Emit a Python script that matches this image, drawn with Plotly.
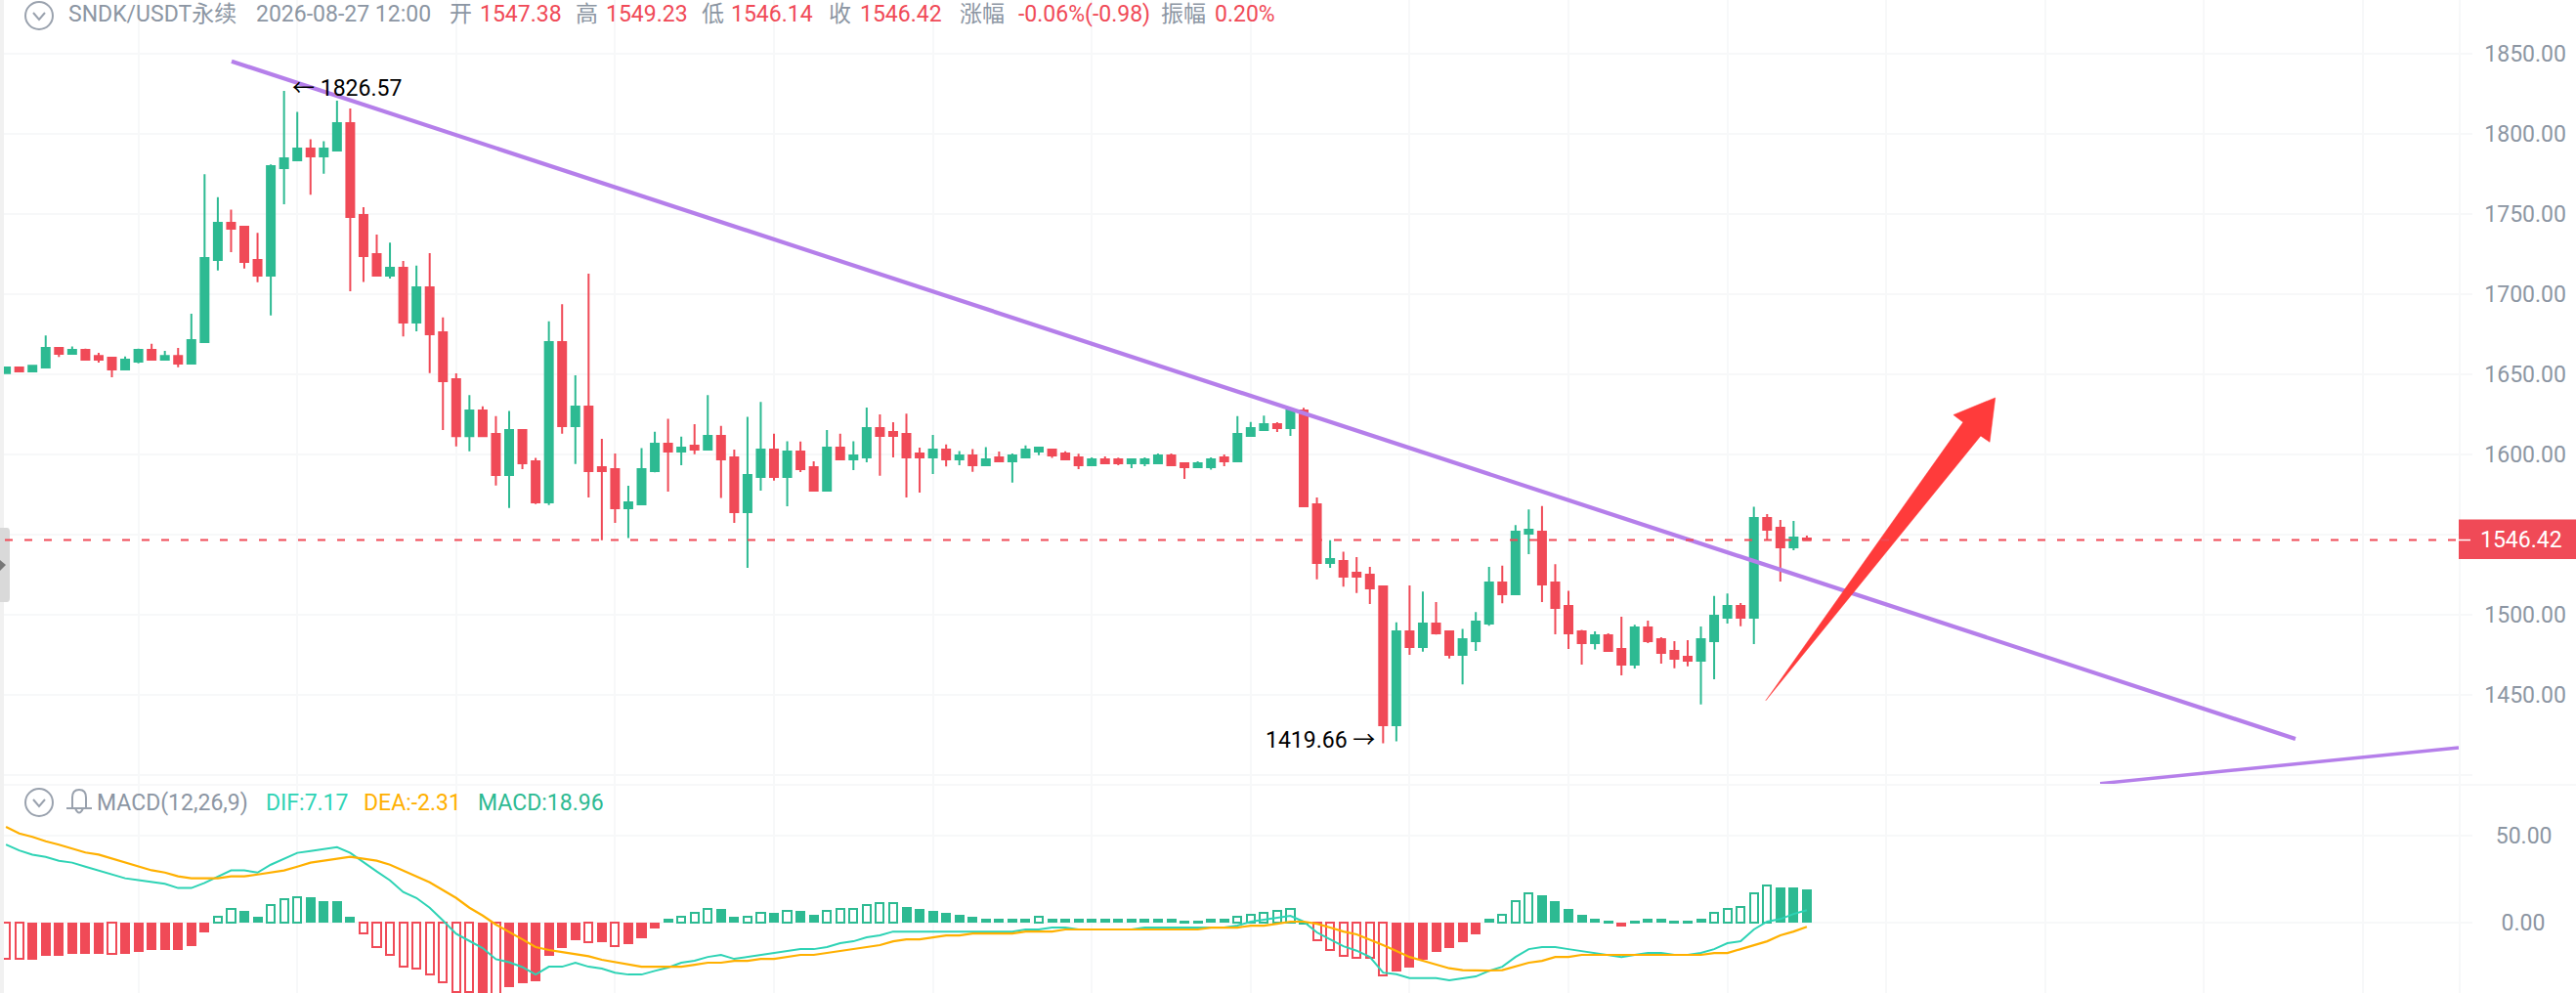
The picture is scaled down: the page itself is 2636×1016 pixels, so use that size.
import plotly.graph_objects as go
from plotly.subplots import make_subplots

# Candles
opens = [
    1650.6, 1654.0, 1651.6, 1654.0, 1666.2, 1662.6, 1665.0, 1661.3, 1660.1, 1652.8,
    1657.7, 1665.0, 1658.9, 1661.3, 1656.5, 1669.9, 1721.1, 1744.3, 1741.9, 1721.1,
    1711.4, 1778.4, 1783.3, 1790.6, 1785.8, 1789.4, 1806.5, 1749.2, 1724.8, 1711.4,
    1716.2, 1682.1, 1704.0, 1676.0, 1646.7, 1611.3, 1627.2, 1612.6, 1587.0, 1615.0,
    1595.5, 1569.9, 1669.9, 1617.5, 1629.7, 1591.8, 1590.6, 1566.2, 1568.7, 1589.4,
    1606.5, 1601.6, 1605.3, 1602.8, 1611.4, 1597.9, 1563.8, 1585.7, 1602.8, 1585.7,
    1601.6, 1591.8, 1577.2, 1604.0, 1596.7, 1597.9, 1616.2, 1613.8, 1612.6, 1600.4,
    1597.9, 1602.8, 1596.7, 1599.2, 1593.1, 1598.0, 1595.5, 1598.0, 1601.6, 1602.8,
    1600.4, 1598.0, 1593.1, 1596.7, 1596.7, 1594.3, 1594.3, 1594.3, 1599.2, 1594.3,
    1591.9, 1591.9, 1598.0, 1595.5, 1611.4, 1615.0, 1618.7, 1616.3, 1627.2, 1568.7,
    1532.1, 1533.3, 1526.0, 1524.8, 1517.5, 1430.9, 1489.4, 1479.7, 1494.3, 1489.4,
    1474.8, 1483.3, 1494.3, 1519.9, 1512.6, 1550.4, 1551.6, 1519.9, 1505.3, 1489.4,
    1482.1, 1487.0, 1478.4, 1468.7, 1491.9, 1484.5, 1477.2, 1473.6, 1471.1, 1483.3,
    1498.0, 1505.3, 1498.0, 1560.2, 1554.1, 1541.9, 1547.38,
]
highs = [
    1654.4, 1654.4, 1655.6, 1674.0, 1666.2, 1667.2, 1665.8, 1663.2, 1660.1, 1661.0,
    1665.8, 1668.9, 1664.4, 1666.2, 1687.6, 1774.6, 1760.4, 1752.6, 1742.5, 1738.0,
    1780.7, 1826.57, 1813.6, 1796.5, 1795.3, 1820.5, 1815.7, 1754.1, 1737.0, 1731.9,
    1720.5, 1717.7, 1725.4, 1685.3, 1650.4, 1636.8, 1629.8, 1623.7, 1627.0, 1615.6,
    1597.7, 1682.9, 1693.5, 1649.2, 1712.6, 1609.5, 1600.4, 1580.3, 1603.8, 1614.0,
    1622.1, 1611.0, 1618.7, 1636.8, 1617.7, 1602.8, 1623.2, 1632.5, 1612.8, 1608.1,
    1607.9, 1595.5, 1615.0, 1612.8, 1608.1, 1629.0, 1624.8, 1619.9, 1625.2, 1604.0,
    1612.0, 1606.1, 1602.0, 1603.2, 1604.4, 1601.6, 1600.4, 1605.5, 1604.0, 1602.8,
    1601.8, 1600.2, 1598.0, 1598.6, 1597.8, 1596.7, 1598.0, 1600.4, 1600.4, 1594.3,
    1595.5, 1598.0, 1599.8, 1623.8, 1620.1, 1624.0, 1619.9, 1628.0, 1628.9, 1573.0,
    1546.3, 1539.2, 1535.8, 1529.7, 1517.5, 1495.1, 1518.1, 1514.2, 1507.7, 1489.8,
    1491.0, 1501.4, 1529.7, 1530.5, 1555.7, 1565.5, 1567.7, 1531.3, 1514.8, 1490.4,
    1489.4, 1488.2, 1498.6, 1493.5, 1496.1, 1485.8, 1483.3, 1483.9, 1492.5, 1511.6,
    1513.0, 1507.1, 1567.1, 1562.6, 1558.9, 1558.3, 1549.23,
]
lows = [
    1650.6, 1651.6, 1651.6, 1654.0, 1660.7, 1662.6, 1658.3, 1657.1, 1648.0, 1652.2,
    1656.7, 1658.9, 1658.9, 1654.2, 1656.5, 1669.9, 1714.6, 1726.0, 1715.8, 1707.3,
    1686.6, 1755.9, 1783.3, 1761.8, 1775.0, 1789.4, 1701.6, 1707.5, 1711.4, 1709.5,
    1673.5, 1676.6, 1650.6, 1615.0, 1604.8, 1601.8, 1610.9, 1580.4, 1566.4, 1590.6,
    1568.9, 1568.3, 1612.8, 1593.9, 1573.0, 1546.3, 1557.1, 1547.7, 1568.7, 1588.6,
    1576.6, 1593.1, 1600.0, 1602.8, 1572.7, 1557.1, 1529.0, 1577.2, 1583.5, 1567.5,
    1588.8, 1577.2, 1576.6, 1596.1, 1590.0, 1594.9, 1586.6, 1597.9, 1573.0, 1576.0,
    1587.6, 1592.3, 1593.1, 1589.0, 1593.1, 1595.5, 1582.3, 1597.8, 1599.4, 1597.6,
    1596.7, 1590.6, 1593.1, 1594.3, 1593.1, 1591.3, 1592.5, 1594.3, 1593.1, 1584.5,
    1591.9, 1590.4, 1592.5, 1595.1, 1611.4, 1615.0, 1613.8, 1611.4, 1567.5, 1521.9,
    1529.0, 1517.3, 1513.4, 1506.5, 1419.66, 1420.9, 1474.8, 1476.8, 1487.4, 1472.5,
    1456.3, 1477.2, 1492.9, 1506.9, 1512.2, 1537.6, 1507.7, 1487.6, 1478.4, 1468.7,
    1478.2, 1477.2, 1462.0, 1466.2, 1482.1, 1469.3, 1466.4, 1467.7, 1443.9, 1459.5,
    1494.3, 1492.7, 1481.5, 1546.3, 1520.5, 1540.0, 1546.14,
]
closes = [
    1654.0, 1651.6, 1655.2, 1666.2, 1662.6, 1665.0, 1658.9, 1658.9, 1652.8, 1658.9,
    1665.0, 1658.9, 1661.3, 1656.5, 1671.1, 1722.3, 1744.3, 1740.6, 1719.9, 1711.4,
    1779.7, 1784.5, 1790.6, 1785.8, 1790.6, 1806.5, 1748.0, 1723.6, 1711.4, 1716.2,
    1682.1, 1704.0, 1674.8, 1645.5, 1611.3, 1627.2, 1611.3, 1587.0, 1615.0, 1594.3,
    1569.9, 1669.9, 1617.5, 1629.7, 1589.4, 1589.4, 1566.2, 1569.9, 1590.6, 1606.5,
    1601.6, 1604.0, 1602.8, 1611.4, 1596.7, 1563.8, 1587.0, 1602.8, 1585.7, 1601.6,
    1590.6, 1577.2, 1604.0, 1596.7, 1599.2, 1616.2, 1611.4, 1611.4, 1597.9, 1597.9,
    1602.8, 1596.7, 1599.2, 1593.1, 1596.7, 1595.5, 1599.2, 1602.8, 1604.0, 1599.2,
    1596.7, 1593.1, 1596.7, 1594.3, 1594.3, 1596.7, 1596.7, 1599.2, 1593.1, 1591.9,
    1594.3, 1596.7, 1595.5, 1612.6, 1616.3, 1618.7, 1616.3, 1627.2, 1567.5, 1532.1,
    1534.5, 1523.6, 1523.6, 1516.2, 1430.9, 1489.4, 1479.7, 1494.3, 1488.2, 1474.8,
    1484.5, 1495.5, 1519.9, 1512.6, 1551.6, 1552.8, 1518.7, 1504.1, 1488.2, 1482.1,
    1487.0, 1477.2, 1468.7, 1491.9, 1483.3, 1476.0, 1472.3, 1471.1, 1484.5, 1499.2,
    1505.3, 1498.0, 1560.2, 1552.8, 1541.9, 1548.0, 1546.42,
]

# MACD pane
macd_hist = [
    -21.0, -21.0, -21.3, -18.9, -18.9, -17.8, -17.8, -17.8, -17.8, -17.8,
    -16.7, -15.5, -15.5, -15.5, -13.3, -5.4, 3.2, 7.7, 6.6, 3.2,
    9.9, 13.3, 14.4, 14.4, 12.2, 12.2, 3.2, -6.4, -14.2, -18.7,
    -25.5, -26.6, -30.0, -34.5, -40.1, -40.1, -42.0, -44.0, -37.1, -34.8,
    -33.7, -19.1, -14.6, -10.1, -11.2, -11.2, -13.5, -12.4, -9.0, -3.4,
    2.2, 3.4, 5.6, 7.9, 7.9, 3.4, 3.4, 5.6, 5.6, 6.7,
    6.7, 4.5, 6.7, 7.9, 7.9, 10.1, 11.2, 11.2, 9.0, 7.9,
    6.7, 5.6, 4.5, 3.4, 2.2, 2.2, 2.2, 2.2, 3.4, 2.2,
    2.2, 2.2, 2.2, 2.2, 2.2, 2.2, 2.2, 2.2, 2.2, 1.1,
    1.1, 2.2, 2.2, 3.4, 4.5, 5.6, 6.7, 7.9, -1.0, -10.1,
    -15.7, -19.1, -20.2, -20.2, -30.3, -28.1, -25.8, -21.3, -16.9, -14.6,
    -11.2, -6.7, 2.2, 4.5, 12.4, 16.9, 15.7, 12.4, 7.9, 4.5,
    2.2, 1.1, -2.2, 1.1, 2.2, 2.2, 1.1, 1.1, 2.2, 5.6,
    7.9, 9.0, 16.9, 21.3, 20.2, 20.2, 18.96,
]
dif = [
    44.9, 41.5, 39.1, 37.8, 35.6, 34.5, 32.2, 30.0, 27.7, 25.5,
    24.5, 23.4, 22.3, 19.9, 19.9, 22.8, 26.2, 30.0, 30.0, 28.8,
    33.3, 36.7, 40.1, 41.2, 42.3, 43.4, 40.1, 34.5, 29.4, 24.3,
    17.6, 14.2, 8.6, 1.3, -6.4, -10.5, -14.6, -21.0, -22.7, -25.5,
    -29.8, -25.3, -25.3, -23.0, -25.3, -26.4, -28.7, -29.8, -29.8, -27.7,
    -25.8, -23.0, -21.9, -19.7, -18.5, -20.8, -19.7, -18.5, -17.4, -16.3,
    -15.2, -15.2, -14.0, -11.8, -10.7, -8.4, -7.3, -5.1, -5.1, -5.1,
    -5.1, -5.1, -5.1, -5.1, -5.1, -5.1, -5.1, -3.9, -3.9, -2.8,
    -2.8, -3.9, -3.9, -3.9, -3.9, -3.9, -2.8, -2.8, -2.8, -2.8,
    -2.8, -2.8, -2.8, -1.7, 0.6, 1.7, 2.8, 3.9, 0.6, -5.6,
    -9.6, -13.5, -16.1, -19.7, -28.7, -29.6, -31.8, -31.8, -31.8, -33.1,
    -32.0, -30.9, -27.7, -25.3, -19.7, -15.2, -14.0, -14.0, -15.2, -16.3,
    -17.4, -18.5, -19.7, -18.5, -17.4, -17.4, -18.5, -18.5, -17.4, -15.2,
    -11.8, -10.7, -3.9, 0.6, 2.1, 5.0, 7.17,
]
dea = [
    55.0, 51.3, 49.3, 46.8, 44.8, 42.5, 40.3, 39.1, 36.9, 34.6,
    32.4, 30.1, 28.8, 26.6, 25.5, 25.5, 25.5, 26.6, 26.6, 27.7,
    28.8, 30.0, 32.2, 34.5, 35.6, 36.7, 37.8, 36.7, 35.6, 33.3,
    30.0, 26.6, 23.2, 18.7, 14.2, 8.6, 4.1, -1.1, -5.2, -9.6,
    -14.0, -15.7, -16.9, -18.0, -19.3, -21.3, -22.7, -24.0, -25.3, -25.3,
    -25.3, -25.3, -24.2, -23.0, -23.0, -21.9, -21.9, -20.8, -20.8, -19.7,
    -18.5, -18.5, -17.4, -16.3, -15.2, -14.0, -12.9, -10.7, -9.6, -9.6,
    -8.4, -7.3, -7.3, -6.2, -6.2, -6.2, -6.2, -5.1, -5.1, -5.1,
    -3.9, -3.9, -3.9, -3.9, -3.9, -3.9, -3.9, -3.9, -3.9, -3.9,
    -3.9, -2.8, -2.8, -2.8, -1.7, -1.7, -0.6, 0.6, 0.6, -0.6,
    -2.8, -5.1, -6.7, -9.6, -12.9, -16.3, -19.7, -21.9, -24.2, -26.2,
    -27.3, -27.5, -27.5, -27.3, -25.3, -23.0, -21.9, -19.7, -19.7, -18.5,
    -18.5, -18.5, -18.5, -18.5, -18.5, -18.5, -18.5, -18.5, -18.5, -17.4,
    -17.4, -15.2, -12.9, -10.7, -7.3, -5.1, -2.31,
]
hollow_bars = [0, 1, 8, 16, 17, 20, 21, 22, 27, 28, 29, 30, 31, 32, 33, 34, 35, 37, 44, 46,
               51, 52, 53, 56, 57, 59, 62, 63, 64, 65, 66, 67, 78, 93, 94, 95, 96, 97,
               99, 100, 101, 102, 103, 104, 113, 114, 115, 129, 130, 131, 132, 133]
green_below_zero = [98]

# Drawn trend lines and arrow, in candle index and price
trend1_x = [17.04, 172.9]
trend1_y = [1845.1, 1422.4]
trend2_x = [158.15, 185.23]
trend2_y = [1394.5, 1416.9]
arrow_x = [132.9, 147.8, 147.07, 150.23, 149.81, 149.13, 132.9]
arrow_y = [1446.3, 1619.9, 1624.5, 1635.2, 1607.5, 1611.4, 1446.3]

price_ticks = [1850, 1800, 1750, 1700, 1650, 1600, 1550, 1500, 1450, 1400]
price_labels = ["1850.00", "1800.00", "1750.00", "1700.00", "1650.00", "1600.00", "", "1500.00", "1450.00", ""]
macd_ticks = [50, 0]
macd_labels = ["\u00a0\u00a050.00", "\u00a0\u00a0\u00a00.00"]

WIDTH = 2636
HEIGHT = 1016
PLOT_W = 2516
GREEN = "#2DBA92"
RED = "#F04A57"
GRID = "#F7F8F9"
GRAY = "#8C96A3"
ICON = "#9AA2AE"
FONT = "Roboto, 'Noto Sans CJK SC', sans-serif"

last_price = closes[-1]
xs = list(range(len(closes)))


def px_x(x):
    return x / PLOT_W


def px_y(y):
    return 1 - y / HEIGHT


fig = make_subplots(rows=2, cols=1, shared_xaxes=True, vertical_spacing=0)

fig.add_trace(go.Candlestick(
    x=xs, open=opens, high=highs, low=lows, close=closes,
    increasing=dict(line=dict(color=GREEN, width=2), fillcolor=GREEN),
    decreasing=dict(line=dict(color=RED, width=2), fillcolor=RED),
    whiskerwidth=0, hoverinfo="skip", showlegend=False,
), row=1, col=1)

purple = "#B57FEA"
fig.add_trace(go.Scatter(x=trend1_x, y=trend1_y, mode="lines", line=dict(color=purple, width=4.2),
                         hoverinfo="skip", showlegend=False), row=1, col=1)
fig.add_trace(go.Scatter(x=trend2_x, y=trend2_y, mode="lines", line=dict(color=purple, width=3.5),
                         hoverinfo="skip", showlegend=False), row=1, col=1)
fig.add_trace(go.Scatter(x=arrow_x, y=arrow_y, mode="lines", fill="toself", fillcolor="#FF3B3B",
                         line=dict(color="#FF3B3B", width=0.5), hoverinfo="skip", showlegend=False),
              row=1, col=1)

bar_colors = []
bar_fill = []
bar_width = []
bar_line = []
for i, v in enumerate(macd_hist):
    c = GREEN if v >= 0 or i in green_below_zero else RED
    bar_colors.append(c)
    if i in hollow_bars:
        bar_fill.append("#FFFFFF")
        bar_width.append(0.6)
        bar_line.append(2)
    else:
        bar_fill.append(c)
        bar_width.append(0.74)
        bar_line.append(0)

fig.add_trace(go.Bar(x=xs, y=macd_hist, width=bar_width,
                     marker=dict(color=bar_fill, line=dict(color=bar_colors, width=bar_line)),
                     hoverinfo="skip", showlegend=False), row=2, col=1)
fig.add_trace(go.Scatter(x=xs, y=dif, mode="lines", line=dict(color="#2ED3B5", width=2),
                         hoverinfo="skip", showlegend=False), row=2, col=1)
fig.add_trace(go.Scatter(x=xs, y=dea, mode="lines", line=dict(color="#FFB000", width=2.2),
                         hoverinfo="skip", showlegend=False), row=2, col=1)

shapes = [
    # left strip and the collapse handle
    dict(type="rect", xref="paper", yref="paper", x0=0, x1=px_x(4), y0=0, y1=1,
         fillcolor="#F1F1F1", line_width=0, layer="above"),
    dict(type="path", xref="paper", yref="paper", layer="above", fillcolor="#D9D9D9", line_width=0,
         path=f"M 0 {px_y(540)} L {px_x(7)} {px_y(540)} Q {px_x(10)} {px_y(540)} {px_x(10)} {px_y(544)} "
              f"L {px_x(10)} {px_y(612)} Q {px_x(10)} {px_y(616)} {px_x(7)} {px_y(616)} L 0 {px_y(616)} Z"),
    dict(type="path", xref="paper", yref="paper", layer="above", fillcolor="#777777", line_width=0,
         path=f"M 0 {px_y(573)} L {px_x(6)} {px_y(578)} L 0 {px_y(584)} Z"),
    # pane separator
    dict(type="line", xref="paper", yref="paper", x0=0, x1=WIDTH / PLOT_W, y0=px_y(803), y1=px_y(803),
         line=dict(color=GRID, width=2), layer="below"),
    # last price line and tag
    dict(type="line", xref="paper", yref="y", x0=px_x(5), x1=1, y0=last_price, y1=last_price,
         line=dict(color=RED, width=2, dash="8px,12px"), layer="above"),
    dict(type="rect", xref="paper", yref="paper", x0=1, x1=WIDTH / PLOT_W, y0=px_y(572), y1=px_y(531.5),
         fillcolor=RED, line_width=0, layer="above"),
    dict(type="line", xref="paper", yref="y", x0=1, x1=px_x(2528), y0=last_price, y1=last_price,
         line=dict(color="#FFFFFF", width=1.5), layer="above"),
]

# small round chevron icons next to the two legends
for cy in (16, 821):
    shapes.append(dict(type="circle", xref="paper", yref="paper", x0=px_x(26), x1=px_x(54),
                       y0=px_y(cy + 14), y1=px_y(cy - 14), line=dict(color=ICON, width=2), layer="above"))
    shapes.append(dict(type="path", xref="paper", yref="paper", layer="above", line=dict(color=ICON, width=2),
                       path=f"M {px_x(34)} {px_y(cy - 3)} L {px_x(40)} {px_y(cy + 4)} L {px_x(46)} {px_y(cy - 3)}"))

# bell
shapes.append(dict(type="path", xref="paper", yref="paper", layer="above", line=dict(color=ICON, width=2),
                   path=f"M {px_x(74)} {px_y(826)} L {px_x(74)} {px_y(816)} Q {px_x(74)} {px_y(808)} {px_x(81)} {px_y(808)} "
                        f"Q {px_x(88)} {px_y(808)} {px_x(88)} {px_y(816)} L {px_x(88)} {px_y(826)} "
                        f"M {px_x(68)} {px_y(827)} L {px_x(94)} {px_y(827)} "
                        f"M {px_x(77)} {px_y(827)} Q {px_x(81)} {px_y(836)} {px_x(85)} {px_y(827)}"))

annotations = []


def label(x, y, text, color, size=23):
    annotations.append(dict(xref="paper", yref="paper", x=px_x(x), y=px_y(y), text=text, showarrow=False,
                            xanchor="left", yanchor="middle", font=dict(family=FONT, size=size, color=color)))


label(68, 15, "SNDK/USDT永续", GRAY)
label(260, 15, "2026-08-27 12:00", GRAY)
label(458, 15, "开", GRAY)
label(489, 15, "1547.38", RED)
label(587, 15, "高", GRAY)
label(618, 15, "1549.23", RED)
label(716, 15, "低", GRAY)
label(746, 15, "1546.14", RED)
label(846, 15, "收", GRAY)
label(878, 15, "1546.42", RED)
label(980, 15, "涨幅", GRAY)
label(1040, 15, "-0.06%(-0.98)", RED)
label(1186, 15, "振幅", GRAY)
label(1241, 15, "0.20%", RED)

label(97, 821, "MACD(12,26,9)", GRAY)
label(270, 821, "DIF:7.17", "#2ED3B5")
label(370, 821, "DEA:-2.31", "#FFB000")
label(487, 821, "MACD:18.96", GREEN)

annotations.append(dict(x=21, y=highs[21], xref="x", yref="y", text="← 1826.57", showarrow=False,
                        xanchor="left", yanchor="middle", xshift=6, yshift=3,
                        font=dict(family=FONT, size=23, color="#000000")))
annotations.append(dict(x=104, y=lows[104], xref="x", yref="y", text="1419.66 →", showarrow=False,
                        xanchor="right", yanchor="middle", xshift=-6, yshift=3,
                        font=dict(family=FONT, size=23, color="#000000")))
annotations.append(dict(xref="paper", yref="paper", x=px_x(2580), y=px_y(552), text="1546.42", showarrow=False,
                        xanchor="center", yanchor="middle", font=dict(family=FONT, size=23, color="#FFFFFF")))

fig.update_layout(
    width=WIDTH, height=HEIGHT, autosize=False,
    margin=dict(l=0, r=WIDTH - PLOT_W, t=0, b=0, pad=0),
    paper_bgcolor="#FFFFFF", plot_bgcolor="#FFFFFF",
    showlegend=False, dragmode=False, bargap=0,
    boxgap=0.41, boxgroupgap=0,
    shapes=shapes, annotations=annotations,
    font=dict(family=FONT),
)
x_common = dict(range=[-0.45, 185.23], tick0=10, dtick=12, tickmode="linear", showgrid=True, gridcolor=GRID,
                gridwidth=1.5, showticklabels=False, ticks="", zeroline=False, showline=False,
                rangeslider=dict(visible=False))
fig.update_xaxes(**x_common)
fig.update_yaxes(side="right", showgrid=True, gridcolor=GRID, gridwidth=2, zeroline=False,
                 showline=True, linecolor=GRID, linewidth=1.5,
                 ticks="outside", ticklen=12, tickcolor=GRID, tickwidth=2, ticklabelstandoff=8,
                 tickfont=dict(family=FONT, size=23, color=GRAY))
fig.update_yaxes(range=[1394.3, 1883.35], domain=[1 - 802 / HEIGHT, 1], tickmode="array",
                 tickvals=price_ticks, ticktext=price_labels, row=1, col=1)
fig.update_yaxes(range=[-40.4, 79.2], domain=[0, 1 - 803 / HEIGHT], tickmode="array",
                 tickvals=macd_ticks, ticktext=macd_labels, row=2, col=1)

# the page's default body margin would push the chart 8px off
fig.write_html("out.html", config={"displayModeBar": False},
               post_script="document.body.style.margin='0';")
